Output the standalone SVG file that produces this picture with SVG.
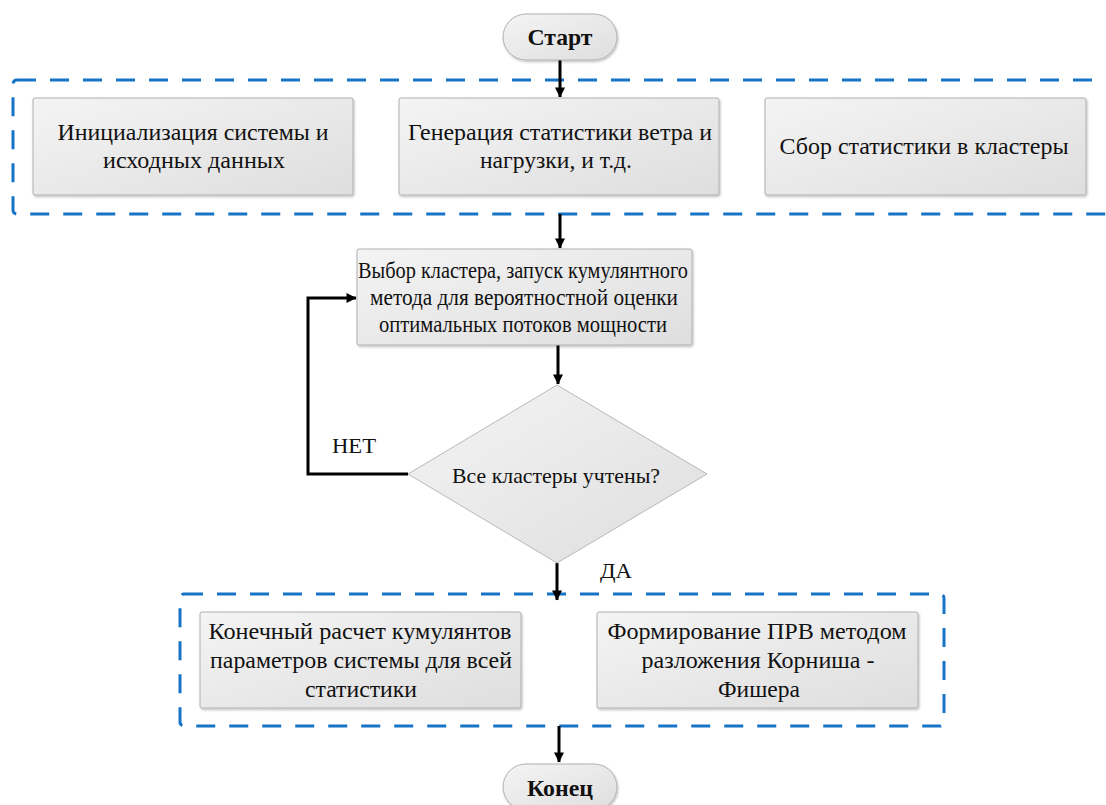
<svg xmlns="http://www.w3.org/2000/svg" width="1106" height="805" viewBox="0 0 1106 805">
<defs>
<linearGradient id="g" x1="0" y1="0" x2="1" y2="1">
<stop offset="0" stop-color="#f4f4f4"/>
<stop offset="1" stop-color="#dedede"/>
</linearGradient>
<marker id="ah" viewBox="0 0 10 14" refX="9.5" refY="7" markerWidth="11" markerHeight="14" markerUnits="userSpaceOnUse" orient="auto">
<path d="M0,2 L10,7 L0,12 Z" fill="#000"/>
</marker>
<filter id="sh" x="-5%" y="-5%" width="110%" height="115%">
<feDropShadow dx="1" dy="1.5" stdDeviation="1" flood-color="#000" flood-opacity="0.25"/>
</filter>
</defs>
<style>
.box{fill:url(#g);stroke:#b0b0b0;stroke-width:1;filter:url(#sh)}
.dash{fill:none;stroke:#1673c6;stroke-width:3;stroke-dasharray:19 14}
.t{font-family:"Liberation Serif","Times New Roman",serif;font-size:24px;fill:#111;text-anchor:middle}
.b{font-weight:bold;font-size:24px}
.s{font-size:22px}
.l{font-family:"Liberation Serif","Times New Roman",serif;font-size:22px;fill:#111}
.c{fill:none;stroke:#000;stroke-width:3}
</style>
<rect width="1106" height="805" fill="#fff"/>
<g id="groups">
<rect class="dash" x="13" y="80" width="1110" height="134" rx="4"/>
<rect class="dash" x="180" y="594" width="764" height="132" rx="4"/>
</g>
<g id="connectors">
<line class="c" x1="560" y1="60" x2="560" y2="97" marker-end="url(#ah)"/>
<line class="c" x1="560" y1="214" x2="560" y2="248" marker-end="url(#ah)"/>
<line class="c" x1="558" y1="345" x2="558" y2="384" marker-end="url(#ah)"/>
<polyline class="c" points="408,474 308,474 308,298 356,298" marker-end="url(#ah)"/>
<line class="c" x1="557" y1="563" x2="557" y2="600" marker-end="url(#ah)"/>
<line class="c" x1="559" y1="726" x2="559" y2="762" marker-end="url(#ah)"/>
</g>
<g id="start">
<rect class="box" x="503" y="14" width="114" height="46" rx="23"/>
<text class="t b" x="560" y="45" textLength="65" lengthAdjust="spacingAndGlyphs">Старт</text>
</g>
<g id="init">
<rect class="box" x="33" y="98" width="320" height="97" rx="2"/>
<text class="t" x="193" y="140" textLength="271" lengthAdjust="spacingAndGlyphs">Инициализация системы и</text>
<text class="t" x="194" y="168" textLength="182" lengthAdjust="spacingAndGlyphs">исходных данных</text>
</g>
<g id="gen">
<rect class="box" x="399" y="98" width="320" height="97" rx="2"/>
<text class="t" x="560" y="140" textLength="304" lengthAdjust="spacingAndGlyphs">Генерация статистики ветра и</text>
<text class="t" x="556" y="168" textLength="152" lengthAdjust="spacingAndGlyphs">нагрузки, и т.д.</text>
</g>
<g id="collect">
<rect class="box" x="765" y="98" width="321" height="97" rx="2"/>
<text class="t" x="924" y="154" textLength="289" lengthAdjust="spacingAndGlyphs">Сбор статистики в кластеры</text>
</g>
<g id="select">
<rect class="box" x="357" y="249" width="335" height="96" rx="2"/>
<text class="t" x="523" y="278" textLength="330" lengthAdjust="spacingAndGlyphs">Выбор кластера, запуск кумулянтного</text>
<text class="t" x="524" y="305" textLength="308" lengthAdjust="spacingAndGlyphs">метода для вероятностной оценки</text>
<text class="t" x="523" y="332" textLength="288" lengthAdjust="spacingAndGlyphs">оптимальных потоков мощности</text>
</g>
<g id="decision">
<polygon points="557,385 707,474 557,563 408,474" fill="url(#g)" stroke="#b8b8b8" stroke-width="1"/>
<text class="t s" x="556" y="483" textLength="208" lengthAdjust="spacingAndGlyphs">Все кластеры учтены?</text>
</g>
<g id="labels">
<text class="l" x="332" y="453" textLength="44" lengthAdjust="spacingAndGlyphs">НЕТ</text>
<text class="l" x="600" y="578" textLength="32" lengthAdjust="spacingAndGlyphs">ДА</text>
</g>
<g id="final">
<rect class="box" x="200" y="612" width="321" height="96" rx="2"/>
<text class="t" x="360" y="639" textLength="303" lengthAdjust="spacingAndGlyphs">Конечный расчет кумулянтов</text>
<text class="t" x="361" y="668" textLength="302" lengthAdjust="spacingAndGlyphs">параметров системы для всей</text>
<text class="t" x="361" y="697" textLength="112" lengthAdjust="spacingAndGlyphs">статистики</text>
</g>
<g id="pdf">
<rect class="box" x="597" y="612" width="321" height="96" rx="2"/>
<text class="t" x="757" y="639" textLength="299" lengthAdjust="spacingAndGlyphs">Формирование ПРВ методом</text>
<text class="t" x="758" y="668" textLength="233" lengthAdjust="spacingAndGlyphs">разложения Корниша -</text>
<text class="t" x="759" y="697" textLength="82" lengthAdjust="spacingAndGlyphs">Фишера</text>
</g>
<g id="end">
<rect class="box" x="503" y="764" width="114" height="46" rx="23"/>
<text class="t b" x="560" y="796" textLength="66" lengthAdjust="spacingAndGlyphs">Конец</text>
</g>
</svg>
